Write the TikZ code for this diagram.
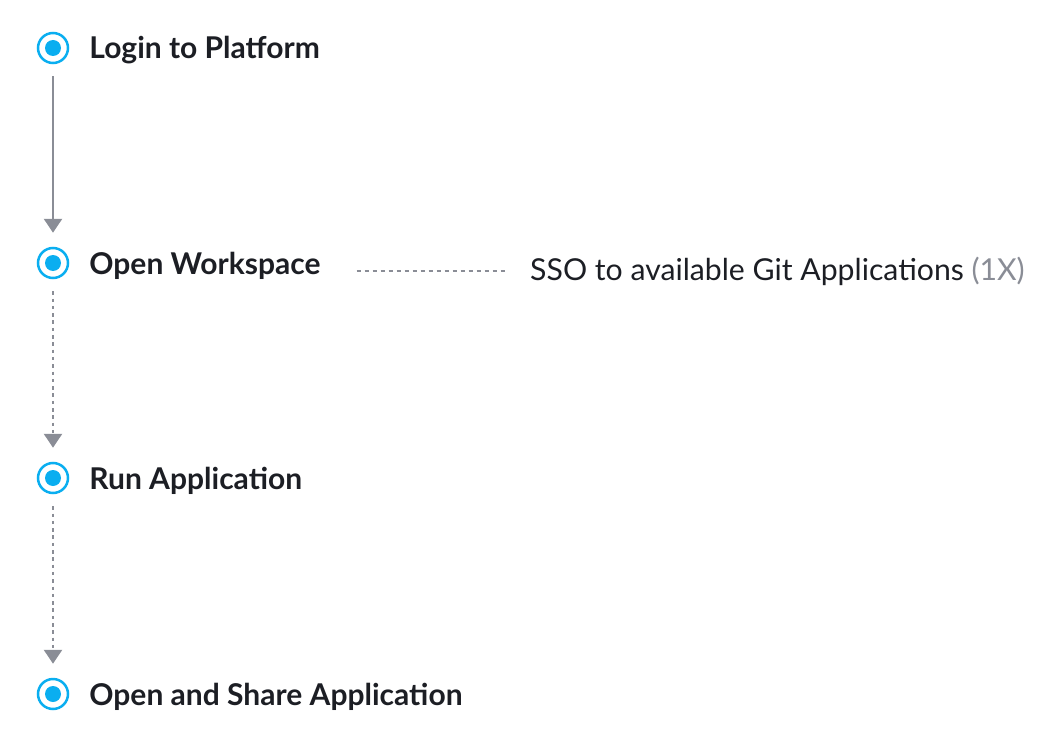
\documentclass[tikz,border=0pt]{standalone}
\usepackage{fontspec}
\setmainfont{Lato}
\usetikzlibrary{arrows.meta,positioning}

\definecolor{ringblue}{HTML}{0AAEF0}
\definecolor{linegray}{HTML}{8A8D96}
\definecolor{textdark}{HTML}{1C1E24}

\tikzset{
    stepdot/.style={circle, draw=ringblue, line width=2.5pt, minimum size=30pt, inner sep=0pt,
        path picture={\fill[ringblue] (path picture bounding box.center) circle (8pt);}},
    steplabel/.style={font=\fontsize{30}{36}\selectfont\bfseries, text=textdark, inner sep=0pt},
    notelabel/.style={font=\fontsize{30.2}{36}\selectfont, text=textdark, inner sep=0pt, anchor=west},
    flow/.style={draw=linegray, line width=2.6pt, -{Triangle[width=18pt,length=14pt]},
        shorten <=12pt, shorten >=14pt},
    dotflow/.style={flow, dash pattern=on 3.5pt off 3.8pt},
    notelink/.style={draw=linegray, line width=1.2pt, dash pattern=on 4pt off 4pt}
}

\begin{document}
\begin{tikzpicture}[x=1pt, y=-1pt]
    \useasboundingbox (0,0) rectangle (1062,746);
    \node[stepdot] (A) at (53,48) {};
    \node[stepdot] (B) at (53,263) {};
    \node[stepdot] (C) at (53,478) {};
    \node[stepdot] (D) at (53,694) {};
    \node[steplabel, right=20pt of A, yshift=-2.5pt] (LA) {Login to Platform};
    \node[steplabel, right=20pt of B, yshift=-2.5pt] (LB) {Open Workspace};
    \node[steplabel, right=20pt of C, yshift=-2.5pt] (LC) {Run Application};
    \node[steplabel, right=20pt of D, yshift=-2.5pt] (LD) {Open and Share Application};
    \node[notelabel] (S) at (530,271) {SSO to available Git Applications \textcolor{linegray}{(1X)}};
    \draw[flow] (A) -- (B);
    \draw[dotflow] (B) -- (C);
    \draw[dotflow] (C) -- (D);
    \draw[notelink, shorten <=36pt, shorten >=25pt] (S.west -| LB.east) -- (S.west);
\end{tikzpicture}
\end{document}
